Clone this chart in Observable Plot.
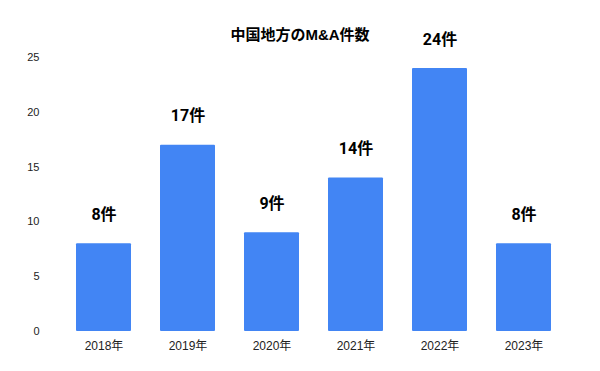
<!DOCTYPE html>
<html>
<head>
<meta charset="utf-8">
<script src="https://cdn.jsdelivr.net/npm/d3@7"></script>
<script src="https://cdn.jsdelivr.net/npm/@observablehq/plot@0.6"></script>
<style>
  body { margin: 0; background: #fff; }
  #chart svg { display: block; }
</style>
</head>
<body>
<div id="chart"></div>
<script>
const years = ["2018年", "2019年", "2020年", "2021年", "2022年", "2023年"];
const counts = [8, 17, 9, 14, 24, 8];
const yTicks = [0, 5, 10, 15, 20, 25];
const title = "中国地方のM&A件数";

const data = years.map((y, i) => ({year: y, count: counts[i], label: counts[i] + "件"}));
const axisFont = "'Liberation Sans', Arial, 'Noto Sans CJK JP', sans-serif";
const labelFont = "Roboto, 'Noto Sans CJK JP', sans-serif";

const chart = Plot.plot({
  width: 600,
  height: 371,
  marginTop: 57,
  marginBottom: 40,
  marginLeft: 46,
  marginRight: 19,
  style: {fontFamily: axisFont, fontSize: "11px", color: "#222", background: "#fff"},
  x: {domain: years, padding: 0.35, label: null, tickSize: 0, tickPadding: 10},
  y: {domain: [0, 25], ticks: yTicks, label: null, tickSize: 0, tickPadding: 7},
  marks: [
    Plot.axisX({tickSize: 0, tickPadding: 10, fontSize: 12, label: null}),
    Plot.axisY({ticks: yTicks, tickSize: 0, tickPadding: 7, fontSize: 11, label: null}),
    Plot.barY(data, {x: "year", y: "count", fill: "#4285f4", rx: 1}),
    Plot.text(data, {x: "year", y: "count", text: "label", dy: -29, fontSize: 16, fontWeight: "bold", fill: "#000", fontFamily: labelFont}),
    Plot.text([title], {frameAnchor: "top", dy: -28, dx: -14, fontSize: 15, fontWeight: "bold", fill: "#000"})
  ]
});
document.getElementById("chart").appendChild(chart);
</script>
</body>
</html>
